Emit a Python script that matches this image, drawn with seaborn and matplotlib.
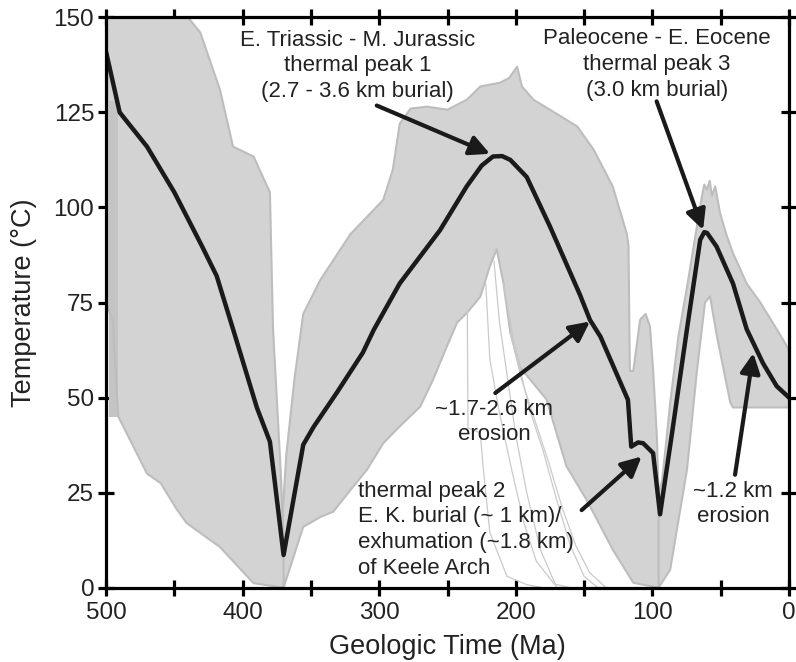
import numpy as np
import matplotlib
matplotlib.use("Agg")
import matplotlib.pyplot as plt
import seaborn as sns

# ---------------- data (Ma, temperature in degC) ----------------
# best-fit (weighted mean) thermal path
best_ma = [500, 490, 470, 450, 430, 419, 407, 389.5, 380, 370, 355.6, 348, 331, 312, 304,
           285, 255.5, 236, 225, 216.7, 210, 204, 192, 175, 153, 145.7, 138, 117.9,
           115.5, 110.5, 106.8, 99.5, 94.4, 85, 74.7, 65, 62, 60, 53, 41, 31, 19, 9, 0]
best_t = [141, 125, 116, 104, 90, 82, 68, 47.3, 38.4, 8.6, 37.6, 42.3, 51.3, 61.8, 67.8,
          80, 94, 105.5, 111, 113.4, 113.5, 112.5, 108, 95, 77, 70.4, 66, 49.4,
          37.1, 38.2, 38, 35.4, 19.3, 42.2, 68, 91.5, 93.5, 93.3, 89.7, 80, 68, 59, 53, 50]

# envelope of accepted paths: Devonian-Silurian cooling bundle
envA_up_ma = [500, 440, 431, 416.6, 407, 392, 380, 377.7, 375, 372, 370]
envA_up_t = [150, 150, 146, 131, 116, 113.4, 104, 68, 50, 30, 12]
envA_lo_ma = [500, 495, 491, 470, 460, 448, 441, 416.6, 392, 370]
envA_lo_t = [75, 70, 45, 30, 27.5, 20.5, 17, 10.7, 1.2, 0]

# Triassic-Jurassic burial / Cretaceous bundle
envB_up_ma = [372, 368, 362, 355.6, 343, 321, 297, 290, 285, 277, 265, 250, 236, 226,
              211.6, 205, 199, 195.5, 187, 175, 155, 143, 129, 118.8, 117.5, 116.5,
              114, 109, 105, 101.8, 99.5, 96.7, 95.5]
envB_up_t = [12, 35, 55, 72, 81, 93, 102, 110, 122, 126, 126.5, 125.7, 128.3, 131.8,
             132.8, 134, 137, 131.8, 128.3, 125.7, 121.3, 115.2, 105.5, 93.2, 90, 57,
             57, 70.5, 72, 68.8, 57.4, 39.8, 25]
envB_lo_ma = [372, 370, 355.6, 343, 333.6, 321, 309, 297, 285, 270, 260.6, 250.5, 243,
              235.7, 226, 219, 214, 209, 204, 197, 177.5, 163, 148, 129, 114, 95.5]
envB_lo_t = [0, 0, 16, 18.6, 20, 25.7, 31, 38, 42.4, 47.6, 54.7, 63.4, 69.7,
             72.3, 76.5, 84.5, 89, 80, 67, 58, 49.5, 32, 23, 10, 1.3, 0]

# Paleocene-Eocene bundle
envC_up_ma = [95.5, 93, 90, 87, 81, 74.7, 67.4, 63.7, 62, 60, 58, 56.4, 54, 50.5, 46,
              41, 31, 21, 9, 1.5, 0]
envC_up_t = [25, 28, 38, 48.6, 66, 79, 95, 103, 106, 104.7, 107, 103, 105.5, 98.6, 93,
             88, 80, 75, 68, 63.5, 62]
envC_lo_ma = [95.5, 87, 74.7, 67.4, 61.5, 57.8, 52.7, 43, 41, 0]
envC_lo_t = [0, 4.7, 31, 57, 75, 76.6, 66, 48.7, 47.4, 47.4]

# sparse individual paths below the Jurassic peak
sparse_paths = [
    ([236, 235.5, 235, 226, 224, 219, 206.5, 192, 180], [72, 73, 42, 40.8, 32, 14.5, 3, 0.8, 0]),
    ([209, 200, 190, 180, 170, 160, 150, 140], [80, 62, 47, 36, 23, 11, 3, 0]),
    ([222, 219, 212, 203, 194, 185, 172, 160], [80, 60, 46, 31, 17, 7, 1, 0]),
    ([204, 196, 186, 176, 166, 156, 146, 134], [67, 55, 44, 33, 21, 11, 4, 0]),
    ([216, 212, 206, 200, 192, 182, 170], [86, 70, 55, 40, 25, 10, 0]),
]

# annotation texts and positions (Ma, degC)
ann_texts = ["E. Triassic - M. Jurassic\nthermal peak 1\n(2.7 - 3.6 km burial)",
             "Paleocene - E. Eocene\nthermal peak 3\n(3.0 km burial)",
             "~1.7-2.6 km\nerosion",
             "thermal peak 2\nE. K. burial (~ 1 km)/\nexhumation (~1.8 km)\nof Keele Arch",
             "~1.2 km\nerosion"]
ann_text_xy = [(316, 137.2), (96.6, 137.6), (216, 43.6), (315.2, 15.2), (41, 22)]
ann_ha = ["center", "center", "center", "left", "center"]
arrow_tail = [(301.8, 126.8), (96.9, 127.9), (215, 51.2), (151.8, 20.4), (39.5, 29.7)]
arrow_head = [(218.9, 114.1), (62.9, 94.1), (145.7, 70.0), (107.9, 34.5), (26.1, 61.7)]

x_ticks = list(range(0, 501, 50))
y_ticks = [0, 25, 50, 75, 100, 125, 150]

# ---------------- plotting ----------------
sns.set_theme(style="ticks")
plt.rcParams['font.family'] = ['Liberation Sans', 'DejaVu Sans']

fig = plt.figure(figsize=(7.96, 6.62), dpi=100)
ax = fig.add_axes([106 / 796, 1 - 587.7 / 662, (789 - 106) / 796, (587.7 - 17.3) / 662])

fill_c = "#d3d3d3"
edge_c = "#bdbdbd"
for up_x, up_y, lo_x, lo_y in [(envA_up_ma, envA_up_t, envA_lo_ma, envA_lo_t),
                               (envB_up_ma, envB_up_t, envB_lo_ma, envB_lo_t),
                               (envC_up_ma, envC_up_t, envC_lo_ma, envC_lo_t)]:
    px = np.concatenate([up_x, lo_x[::-1]])
    py = np.concatenate([up_y, lo_y[::-1]])
    ax.fill(px, py, color=fill_c, lw=0, zorder=1)
    ax.plot(px, py, color=edge_c, lw=1.5, zorder=2)

# band of paths along the left edge
ax.fill([498, 491, 491, 498], [45, 45, 128, 128], color="#c4c4c4", lw=0, zorder=1)

for xs, ys in sparse_paths:
    sns.lineplot(x=xs, y=ys, sort=False, color="#cacaca", lw=0.9, ax=ax, zorder=2)

sns.lineplot(x=best_ma, y=best_t, sort=False, color="#1a1a1a", lw=3.2, ax=ax, zorder=5)

for txt, (tx, ty), ha in zip(ann_texts, ann_text_xy, ann_ha):
    ax.text(tx, ty, txt, ha=ha, va="center", fontsize=16, color="#222222",
            linespacing=1.3, zorder=6)
for (x0, y0), (x1, y1) in zip(arrow_tail, arrow_head):
    ax.annotate("", xy=(x1, y1), xytext=(x0, y0),
                arrowprops=dict(arrowstyle="-|>,head_length=1.0,head_width=0.5",
                                lw=3, color="#1a1a1a", shrinkA=0, shrinkB=0),
                zorder=6)

ax.set_xlim(500, 0)
ax.set_ylim(0, 150)
ax.set_xticks(x_ticks)
ax.set_xticklabels([str(v) if v % 100 == 0 else "" for v in x_ticks])
ax.set_yticks(y_ticks)
ax.set_yticklabels([str(v) for v in y_ticks])
for s in ax.spines.values():
    s.set_visible(True)
    s.set_linewidth(2.3)
    s.set_color("black")
    s.set_zorder(7)
ax.tick_params(axis="both", which="both", direction="inout", length=11, width=2.3,
               top=True, right=True, labeltop=False, labelright=False,
               labelsize=17.5, colors="black", labelcolor="#222222")
ax.tick_params(axis="x", pad=5)
ax.tick_params(axis="y", pad=3)
ax.set_xlabel("Geologic Time (Ma)", fontsize=19.5, color="#222222", labelpad=7)
ax.set_ylabel("Temperature (°C)", fontsize=19.5, color="#222222", labelpad=12)
ax.set_facecolor("white")
fig.patch.set_facecolor("white")
fig.savefig("out.png", dpi=100, facecolor="white")
